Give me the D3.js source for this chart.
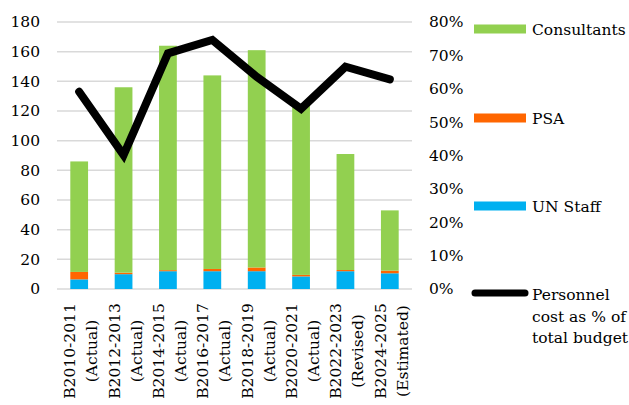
<!DOCTYPE html>
<html>
<head>
<meta charset="utf-8">
<script src="https://cdn.jsdelivr.net/npm/d3@7"></script>
<style>
  html, body { margin: 0; padding: 0; background: #fff; }
  svg { display: block; font-family: "DejaVu Serif", serif; }
</style>
</head>
<body>
<svg id="chart" width="629" height="405"></svg>
<script>
// Biennium labels (two lines each)
const periods = ["B2010-2011", "B2012-2013", "B2014-2015", "B2016-2017",
                 "B2018-2019", "B2020-2021", "B2022-2023", "B2024-2025"];
const statuses = ["(Actual)", "(Actual)", "(Actual)", "(Actual)",
                  "(Actual)", "(Actual)", "(Revised)", "(Estimated)"];

// Stacked personnel cost components
const unStaff     = [6.5, 10, 12, 12, 12, 8.5, 12, 10.6];
const psa         = [5, 1, 0.7, 1.5, 2.5, 1, 0.8, 1.8];
const consultants = [74.5, 125, 151.3, 130.5, 146.5, 114.5, 78.2, 40.6];

// Personnel cost as share of total budget (%)
const personnelPct = [59.1, 40.1, 70.6, 74.6, 63.6, 54.0, 66.6, 62.8];

const leftTicks  = [0, 20, 40, 60, 80, 100, 120, 140, 160, 180];
const rightTicks = [0, 10, 20, 30, 40, 50, 60, 70, 80];

const seriesNames  = ["UN Staff", "PSA", "Consultants"];
const seriesColors = { "UN Staff": "#00b0f0", "PSA": "#ff6600", "Consultants": "#92d050" };

const svg = d3.select("#chart");
const fontSize = 15.5;

const x = d3.scaleBand()
  .domain(d3.range(periods.length))
  .range([57, 412])
  .paddingInner(0.6)
  .paddingOuter(0.3);

const y = d3.scaleLinear().domain([0, 180]).range([289, 22]);
const yPct = d3.scaleLinear().domain([0, 80]).range([289, 22]);

// Gridlines
svg.append("g")
  .selectAll("line")
  .data(leftTicks)
  .join("line")
  .attr("x1", 57).attr("x2", 412)
  .attr("y1", d => y(d)).attr("y2", d => y(d))
  .attr("stroke", "#d9d9d9")
  .attr("stroke-width", 1.5);

// Left axis
const leftAxis = svg.append("g")
  .attr("transform", "translate(57,0)")
  .call(d3.axisLeft(y).tickValues(leftTicks).tickSize(0).tickPadding(17));
leftAxis.select(".domain").remove();
leftAxis.selectAll("text")
  .attr("font-family", "DejaVu Serif")
  .attr("font-size", fontSize)
  .attr("fill", "#000");

// Right axis
const rightAxis = svg.append("g")
  .attr("transform", "translate(412,0)")
  .call(d3.axisRight(yPct).tickValues(rightTicks).tickSize(0).tickPadding(17)
    .tickFormat(d => d + "%"));
rightAxis.select(".domain").remove();
rightAxis.selectAll("text")
  .attr("font-family", "DejaVu Serif")
  .attr("font-size", fontSize)
  .attr("fill", "#000");

// Stacked bars
const rows = periods.map((p, i) => ({
  "UN Staff": unStaff[i], "PSA": psa[i], "Consultants": consultants[i], idx: i
}));
const stacked = d3.stack().keys(seriesNames)(rows);

svg.append("g")
  .selectAll("g")
  .data(stacked)
  .join("g")
  .attr("fill", d => seriesColors[d.key])
  .selectAll("rect")
  .data(d => d)
  .join("rect")
  .attr("x", d => x(d.data.idx))
  .attr("width", x.bandwidth())
  .attr("y", d => y(d[1]))
  .attr("height", d => y(d[0]) - y(d[1]));

// Personnel share line
const line = d3.line()
  .x((d, i) => x(i) + x.bandwidth() / 2)
  .y(d => yPct(d));

svg.append("path")
  .datum(personnelPct)
  .attr("d", line)
  .attr("fill", "none")
  .attr("stroke", "#000")
  .attr("stroke-width", 8)
  .attr("stroke-linejoin", "miter")
  .attr("stroke-linecap", "round");

// Category labels, rotated
const labels = svg.append("g")
  .selectAll("text")
  .data(periods)
  .join("text")
  .attr("transform", (d, i) => `translate(${x(i) + x.bandwidth() / 2},351) rotate(-90)`)
  .attr("text-anchor", "middle")
  .attr("font-size", fontSize)
  .attr("fill", "#000");
labels.append("tspan").attr("x", 0).attr("y", -4).text(d => d);
labels.append("tspan").attr("x", 0).attr("y", 18).text((d, i) => statuses[i]);

// Legend
const legend = svg.append("g");
const legendItems = [
  { name: "Consultants", cy: 29 },
  { name: "PSA", cy: 118 },
  { name: "UN Staff", cy: 206 }
];
legend.selectAll("rect")
  .data(legendItems)
  .join("rect")
  .attr("x", 474).attr("width", 52)
  .attr("y", d => d.cy - 4.5).attr("height", 9)
  .attr("fill", d => seriesColors[d.name]);
legend.selectAll("text.item")
  .data(legendItems)
  .join("text")
  .attr("class", "item")
  .attr("x", 532).attr("y", d => d.cy + 6)
  .attr("font-size", fontSize)
  .text(d => d.name);

legend.append("line")
  .attr("x1", 475).attr("x2", 525)
  .attr("y1", 293).attr("y2", 293)
  .attr("stroke", "#000").attr("stroke-width", 7)
  .attr("stroke-linecap", "round");
const lineLabel = legend.append("text")
  .attr("font-size", fontSize);
["Personnel", "cost as % of", "total budget"].forEach((t, k) => {
  lineLabel.append("tspan").attr("x", 532).attr("y", 300 + k * 21.5).text(t);
});
</script>
</body>
</html>
